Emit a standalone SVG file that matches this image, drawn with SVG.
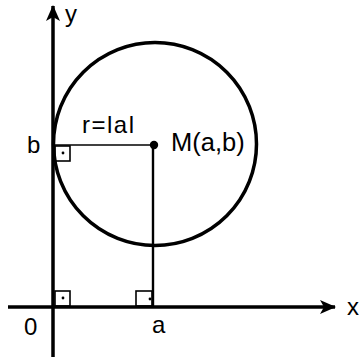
<svg xmlns="http://www.w3.org/2000/svg" width="359" height="362" viewBox="0 0 359 362">
<style>
.ax{stroke:#000;stroke-width:3.5;fill:none}
.thin{stroke:#000;stroke-width:1.6;fill:none}
.med{stroke:#000;stroke-width:2.4;fill:none}
.sq{stroke:#000;stroke-width:1.6;fill:none}
.t{font-family:"Liberation Sans",Arial,sans-serif;font-size:24px;fill:#000}
</style>
<defs>
<marker id="arr" viewBox="0 0 16 14" refX="15" refY="7" markerWidth="16" markerHeight="14" orient="auto" markerUnits="userSpaceOnUse">
<path d="M0,0 L16,7 L0,14 L4,7 Z" fill="#000"/>
</marker>
</defs>
<rect width="359" height="362" fill="#fff"/>
<g id="axes">
<line class="ax" x1="53" y1="357" x2="53" y2="6" marker-end="url(#arr)"/>
<line class="ax" x1="8" y1="307" x2="335" y2="307" marker-end="url(#arr)"/>
</g>
<g id="circle">
<circle cx="155" cy="144" r="101.5" class="ax"/>
</g>
<g id="connectors">
<line class="thin" x1="53" y1="145" x2="153" y2="145"/>
<line class="med" x1="153" y1="145" x2="153" y2="307"/>
</g>
<g id="M">
<circle cx="154" cy="145" r="4.2" fill="#000"/>
<text class="t" x="171" y="151" style="font-size:25.5px">M(a,b)</text>
</g>
<g id="rightangles">
<rect class="sq" x="55" y="146" width="15" height="15"/>
<circle cx="63" cy="153" r="1.4" fill="#000"/>
<rect class="sq" x="55" y="291" width="15" height="15"/>
<circle cx="63" cy="298" r="1.4" fill="#000"/>
<rect class="sq" x="136" y="291" width="16" height="15"/>
<circle cx="150" cy="299" r="1.4" fill="#000"/>
</g>
<g id="labels">
<text class="t" x="65" y="22">y</text>
<text class="t" x="347" y="315">x</text>
<text class="t" x="27" y="153">b</text>
<text class="t" x="82" y="133" style="letter-spacing:1.5px">r=lal</text>
<text class="t" x="24" y="335">0</text>
<text class="t" x="152" y="333">a</text>
</g>
</svg>
